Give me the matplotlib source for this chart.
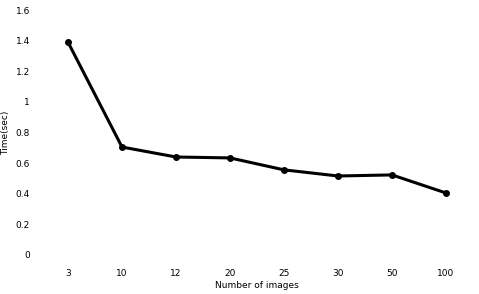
import matplotlib
matplotlib.use('Agg')
import matplotlib.pyplot as plt

categories = ['3', '10', '12', '20', '25', '30', '50', '100']
times = [1.39, 0.705, 0.64, 0.634, 0.556, 0.516, 0.523, 0.405]
yticks = [0, 0.2, 0.4, 0.6, 0.8, 1, 1.2, 1.4, 1.6]
ytick_labels = ['0', '0.2', '0.4', '0.6', '0.8', '1', '1.2', '1.4', '1.6']

fig = plt.figure(figsize=(4.79, 2.94), dpi=100)
ax = fig.add_axes([41/479, 39/294, 432/479, 245/294])

x = list(range(len(categories)))
ax.plot(x, times, color='black', lw=2.2, marker='o', ms=4)

ax.set_xlim(-0.5, len(categories) - 0.5)
ax.set_ylim(0, 1.6)
ax.set_xticks(x)
ax.set_xticklabels(categories)
ax.set_yticks(yticks)
ax.set_yticklabels(ytick_labels)
ax.tick_params(length=0, labelsize=6.5, pad=10)
ax.tick_params(axis='y', pad=8)
for s in ax.spines.values():
    s.set_visible(False)

ax.set_xlabel('Number of images', fontsize=6.5, labelpad=2)
ax.set_ylabel('Time(sec)', fontsize=6.5, labelpad=4)

fig.savefig('out.png', dpi=100)
